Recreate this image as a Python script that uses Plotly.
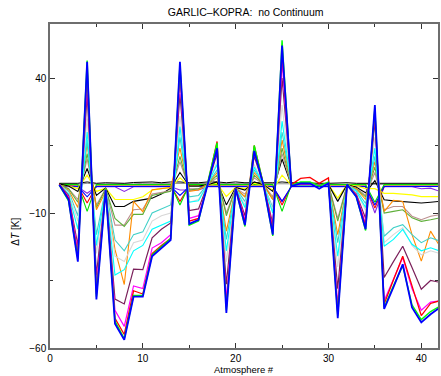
import plotly.graph_objects as go

atm = list(range(1, 43))

# large-amplitude family
blue = [0.5, -5, -28, 46, -42, -1.5, -51, -57, -41, -41, -26, -23, -20, 46, -14, -12.5, 1, 14, -47, -1, -14.5, 13, 0.3, -18, 52, 0, 1, 1, -1, 1, -49, 0.5, -4, -16, 30, -45.5, -37.5, -29, -45, -50.5, -47.5, -45]
lime = [0.3, -5.5, -27, 46.5, -41, -1, -50, -56.5, -40.5, -40.5, -25.5, -22.5, -19.5, 45, -14.5, -13, 1, 16, -46, -1, -15, 15, 0.5, -18.5, 54, 0.2, 1.5, 1.5, 0, 1.5, -48, 0.8, -4, -16.5, 29, -45, -37, -29.5, -44, -49.5, -46.5, -44.5]
red = [0.8, -4.5, -26, 44, -40, -1, -49, -55, -38.8, -40, -25, -22, -19.5, 44, -13, -12, 1, 16.5, -45, -0.8, -13.5, 15, 0.5, -16.5, 50, 0.5, 2.8, 3.2, 1, 3, -47, 0.5, -3.5, -15, 28, -43.7, -34.8, -26, -37, -48, -43.5, -42.5]
magenta = [0.5, -4, -24, 40, -37, -1, -46, -52, -37, -38, -23, -21, -18, 40, -12, -11, 1, 14, -42, -0.8, -12.5, 13, 0.5, -15.5, 46, 0.3, 0.8, 0.8, 0.3, 0.8, -44, 0.4, -3.3, -14, 27, -42.5, -34.5, -26.5, -38, -46, -43, -42.5]
maroon = [0.5, -3.5, -22, 34, -33, -1, -41.9, -43.7, -30.8, -31, -19.2, -16, -13.7, 34, -9.1, -8.5, 0.8, 12, -36.4, -0.8, -11, 11, 0.5, -14, 40, 0.3, 0.5, 0.5, 0.3, 0.5, -38, 0.4, -3, -12, 24, -33.9, -28, -22.3, -30.2, -38.2, -35, -35.7]
cyan = [0.5, -3, -16, 20, -22, -1, -33, -31, -24, -22, -16, -14.5, -13, 22, -6, -5.5, 0.8, 8, -24, -0.8, -8, 7, 0.5, -10, 24, 0.3, 0.5, 0.5, 0.3, 0.5, -26, 0.4, -2, -8, 14, -22.3, -19.8, -16.1, -21.6, -24, -22.9, -24.1]
lightgray = [0.5, -2.5, -13, 25, -25, -1, -26, -28, -21, -20, -13, -11, -10, 26, -6, -5, 0.8, 9, -28, -0.8, -7, 8, 0.5, -9, 30, 0.3, 0.5, 0.5, 0.3, 0.5, -30, 0.4, -2, -9, 18, -21, -18, -15.5, -22, -25.5, -24, -25]
turquoise = [0.5, -2, -11, 17, -18, -1, -20, -24, -18, -17, -10, -8.5, -7, 18, -4, -3.5, 0.7, 6, -19.8, -0.8, -5.7, 6, 0.5, -8, 20, 0.3, 0.5, 0.5, 0.3, 0.5, -21, 0.4, -1.5, -6.5, 11, -18.6, -15.5, -14.3, -18, -21, -19.2, -20.4]
orange = [0.5, -1.5, -8, 15.7, -8.8, -2, -23.5, -36.5, -5.7, -9.5, -1.4, -1, -0.6, 14, -2, -1.5, 0.6, 5, -16.7, -0.8, -4, 5, 0.5, -5, 17, 0.3, 0.5, 0.5, 0.3, 0.5, -18, 0.3, -1, -5, 9, -9.4, -5.3, -5.7, -18, -27.8, -16.7, -22.3]
olive = [0.5, -1, -6, 12, -8, -1, -12, -15, -10.5, -10.5, -3.5, -2.8, -2, 11, -1.5, -1, 0.5, 4, -11, -0.8, -4, 4, 0.5, -5, 14, 0.3, 0.5, 0.5, 0.3, 0.5, -13, 0.3, -1, -4, 7, -10, -9.4, -8.8, -11.8, -13.1, -12.5, -11.8]
rosy = [0.5, -1, -5, 10, -7, -1, -14.5, -14.5, -8.8, -8.5, -3, -2.5, -1.8, 9, -1, -1, 0.5, 3, -10, -0.8, -3, 3, 0.5, -4, 12, 0.3, 0.5, 0.5, 0.3, 0.5, -12, 0.3, -0.8, -3.5, 5, -8.8, -7.6, -7.6, -11.2, -12.5, -11.2, -10.6]
black = [0.8, 0, -2, 6.5, -3.5, -0.8, -7.6, -7.6, -5.7, -5, -4.5, -3, -0.8, 5, 0, 0, 0.5, 1.5, -7, -0.5, -1.5, 1.5, 0.5, -2, 10, 0.3, 0.5, 0.5, 0.5, 0.5, -5.7, 0.5, -0.5, -2.5, 2, -5.1, -5.5, -5.7, -6, -6.3, -6, -5.7]
yellow = [0.5, 0, -1, 4, -2, -0.8, -5, -5, -5, -4, -1.5, -1, -0.5, 3, 0, 0, 0.5, 1, -3.9, -0.5, -1, 1, 0.5, -1.5, 4, 0.3, 0.5, 0.5, 0.5, 0.5, -4.5, 0.5, 0, -1, -1, -2.7, -2.7, -3, -3.3, -3.9, -3.9, -3.9]

# small "V" family near zero
purple = [0, -0.3, -0.3, -2.7, -0.3, -0.3, -0.3, -2, -0.3, -0.3, -0.3, -0.3, -0.3, -1.5, -1.5, -1.5, -0.3, -0.3, -0.3, -0.3, -0.3, -0.3, -0.3, -0.3, -5.7, -0.3, -0.3, -0.3, -0.3, -0.3, -0.3, -0.3, -0.3, -0.3, -10, -0.3, -0.3, -0.3, -0.3, -1, -0.8, -2]
red_v = [0.2, 0, 0, -6.3, 0, 0, 0, 0, 0, 0, 0, 0, 0, -5.7, 0, 0, 0, 0, 0, 0, 0, 0, 0, 0, -7, 0, 0, 0, 0, 0, 0, 0, 0, 0, -8.2, 0, 0, 0, 0, 0, 0, 0]
lime_v = [0.6, 0.5, 0.5, -9.4, 0.5, 0.5, 0.5, 0.5, 0.5, 0.5, 0.5, 0.5, 0.5, -7, 0.5, 0.5, 0.5, 0.5, 0.5, 0.5, 0.5, 0.5, 0.5, 0.5, -9.4, 0.5, 0.5, 0.5, 0.5, 0.5, 0.5, 0.5, 0.5, 0.5, -6, 0.5, 0.5, 0.5, 0.5, 0.5, 0.5, 0.5]
blue_v = [0, -0.2, -0.2, -4, -0.2, -0.2, -0.2, -0.2, -0.2, -0.2, -0.2, -0.2, -0.2, -3.5, -0.2, -0.2, -0.2, -0.2, -0.2, -0.2, -0.2, -0.2, -0.2, -0.2, -5.7, -0.2, -0.2, -0.2, -0.2, -0.2, -0.2, -0.2, -0.2, -0.2, -7, -0.2, -0.2, -0.2, -0.2, -0.2, -0.2, -0.2]

# baselines
black_base = [1, 1, 1, 1.5, 1, 1.2, 1.2, 1, 1.3, 1.5, 1.5, 1.2, 1.5, 1.5, 1.2, 1.2, 1.5, 1.5, 1.2, 1.5, 1.2, 1.2, 1.2, 1.2, 1.5, 1.2, 1.2, 1, 1, 1, 1.2, 1.2, 1, 1, 1, 1, 1, 1, 1, 1, 1, 1]
gray_base = [0.6, 0.6, 0.6, 1, 0.7, 0.8, 0.8, 0.6, 0.8, 1, 1, 0.8, 1, 1, 0.8, 0.8, 1, 1, 0.8, 1, 0.8, 0.8, 0.8, 0.8, 1, 0.8, 0.8, 0.6, 0.6, 0.6, 0.8, 0.8, 0.6, 0.6, 0.6, 0.6, 0.6, 0.6, 0.6, 0.6, 0.6, 0.6]

series = [
    (gray_base, "#8C8C8C", 1.0),
    (black_base, "#000000", 1.0),
    (purple, "#8A2BE2", 1.1),
    (red_v, "#FF0000", 1.1),
    (lime_v, "#00E000", 1.1),
    (blue_v, "#0000FF", 1.1),
    (yellow, "#FFFF00", 1.2),
    (black, "#000000", 1.1),
    (rosy, "#BC8F8F", 1.1),
    (olive, "#5FAF3A", 1.1),
    (orange, "#FF8C00", 1.1),
    (turquoise, "#40D0C8", 1.1),
    (lightgray, "#D8D8D8", 1.1),
    (cyan, "#00FFFF", 1.1),
    (maroon, "#7A1F5A", 1.2),
    (magenta, "#FF00FF", 1.2),
    (red, "#FF0000", 1.3),
    (lime, "#00FF00", 1.4),
    (blue, "#0000FF", 1.8),
]

fig = go.Figure()
for vals, col, w in series:
    fig.add_trace(go.Scatter(x=atm, y=vals, mode="lines",
                             line=dict(color=col, width=w), showlegend=False,
                             hoverinfo="skip"))

font = "Liberation Sans, Arial, Helvetica, sans-serif"
axis_common = dict(showgrid=False, zeroline=False, showline=True, linecolor="#6E6E6E",
                   linewidth=1.5, ticks="inside", ticklen=5, tickcolor="#333333",
                   mirror="ticks", tickfont=dict(family=font, size=10, color="black"))

fig.update_layout(
    width=441, height=376,
    margin=dict(l=50, r=1, t=24, b=28),
    paper_bgcolor="white", plot_bgcolor="white",
    font=dict(family=font, size=10, color="black"),
    title=dict(text="GARLIC\u2013KOPRA:  no Continuum", x=0.557, xanchor="center",
               y=0.966, yanchor="middle", font=dict(family=font, size=10.5, color="black")),
    xaxis=dict(range=[0, 41.8], tick0=0, dtick=10, ticklabelstandoff=0,
               minor=dict(dtick=5, ticks="inside", ticklen=3, tickcolor="#333333"),
               **axis_common),
    yaxis=dict(range=[-60, 60], tick0=-60, dtick=50,
               minor=dict(dtick=25, tick0=-60, ticks="inside", ticklen=3, tickcolor="#333333"),
               **axis_common),
    annotations=[
        dict(text="Atmosphere #", xref="paper", yref="paper", x=0.5, y=0, yshift=-15,
             xanchor="center", yanchor="top", showarrow=False, borderpad=0,
             font=dict(family=font, size=9.5, color="black")),
        dict(text="\u0394<i>T</i> [K]", xref="paper", yref="paper", x=-0.0895, y=0.36,
             xanchor="center", yanchor="middle", textangle=-90, showarrow=False,
             font=dict(family=font, size=10, color="black")),
    ],
)

fig.write_html("out.html")
